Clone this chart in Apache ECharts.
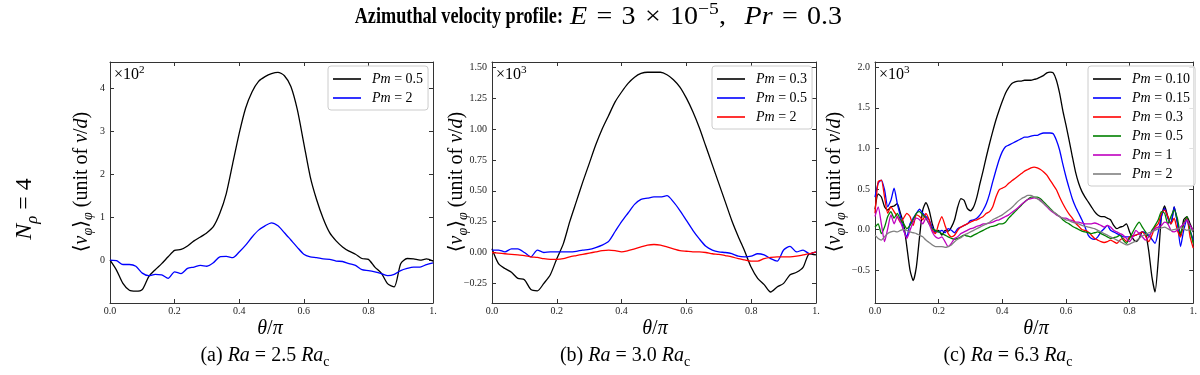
<!DOCTYPE html>
<html>
<head>
<meta charset="utf-8">
<script src="https://cdn.jsdelivr.net/npm/echarts@6/dist/echarts.min.js"></script>
<style>
  html, body { margin: 0; padding: 0; background: #fff; }
  #chart { width: 1200px; height: 375px; }
</style>
</head>
<body>
<div id="chart"></div>
<script>
// θ/π sample points
const thetaAB = [0, 0.02, 0.04, 0.06, 0.08, 0.1, 0.12, 0.14, 0.16, 0.18, 0.2, 0.22, 0.24, 0.26, 0.28, 0.3, 0.32, 0.34, 0.36, 0.38,
  0.4, 0.42, 0.44, 0.46, 0.48, 0.5, 0.52, 0.54, 0.56, 0.58, 0.6, 0.62, 0.64, 0.66, 0.68, 0.7, 0.72, 0.74, 0.76, 0.78,
  0.8, 0.82, 0.84, 0.86, 0.88, 0.9, 0.92, 0.94, 0.96, 0.98, 1];
const thetaC = [0, 0.01, 0.02, 0.03, 0.04, 0.05, 0.06, 0.07, 0.08, 0.09, 0.1, 0.11, 0.12, 0.13, 0.14, 0.15, 0.16, 0.17, 0.18, 0.19,
  0.2, 0.21, 0.22, 0.23, 0.24, 0.25, 0.26, 0.27, 0.28, 0.29, 0.3, 0.31, 0.32, 0.33, 0.34, 0.35, 0.36, 0.37, 0.38, 0.39,
  0.4, 0.41, 0.42, 0.43, 0.44, 0.45, 0.46, 0.47, 0.48, 0.49, 0.5, 0.51, 0.52, 0.53, 0.54, 0.55, 0.56, 0.57, 0.58, 0.59,
  0.6, 0.61, 0.62, 0.63, 0.64, 0.65, 0.66, 0.67, 0.68, 0.69, 0.7, 0.71, 0.72, 0.73, 0.74, 0.75, 0.76, 0.77, 0.78, 0.79,
  0.8, 0.81, 0.82, 0.83, 0.84, 0.85, 0.86, 0.87, 0.88, 0.89, 0.9, 0.91, 0.92, 0.93, 0.94, 0.95, 0.96, 0.97, 0.98, 0.99, 1];

// (a) Ra = 2.5 Ra_c, values x10^2
const aPm05 = [0, -0.23, -0.54, -0.70, -0.72, -0.68, -0.38, -0.22, -0.08, 0.08, 0.23, 0.25, 0.33, 0.45, 0.54, 0.64, 0.78, 1.09, 1.55, 2.25,
  2.95, 3.54, 3.92, 4.16, 4.27, 4.34, 4.37, 4.29, 4.04, 3.50, 2.72, 1.94, 1.40, 0.97, 0.64, 0.45, 0.31, 0.21, 0.14, 0.04,
  0.02, -0.16, -0.30, -0.55, -0.62, -0.08, 0.04, 0.03, 0.0, 0.03, -0.02];
const aPm2 = [0, -0.01, -0.10, -0.10, -0.14, -0.30, -0.36, -0.33, -0.34, -0.42, -0.27, -0.31, -0.19, -0.16, -0.12, -0.14, -0.06, 0.08, 0.09, 0.06,
  0.19, 0.35, 0.54, 0.70, 0.80, 0.87, 0.80, 0.64, 0.47, 0.30, 0.14, 0.08, 0.06, 0.03, 0.02, -0.02, -0.03, -0.08, -0.12, -0.22,
  -0.24, -0.27, -0.31, -0.36, -0.33, -0.24, -0.19, -0.16, -0.16, -0.10, -0.06];

// (b) Ra = 3.0 Ra_c, values x10^3
const bPm03 = [0.03, -0.09, -0.13, -0.16, -0.21, -0.22, -0.30, -0.31, -0.25, -0.18, -0.05, 0.07, 0.25, 0.41, 0.57, 0.72, 0.87, 1.00, 1.11, 1.22,
  1.30, 1.37, 1.42, 1.45, 1.46, 1.46, 1.46, 1.44, 1.40, 1.34, 1.25, 1.14, 1.01, 0.86, 0.71, 0.56, 0.41, 0.26, 0.13, 0.01,
  -0.12, -0.21, -0.26, -0.32, -0.28, -0.25, -0.18, -0.16, -0.12, -0.01, -0.02];
const bPm05 = [0.02, 0.02, 0.005, 0.03, 0.03, 0.0, -0.035, 0.02, 0.0, 0.005, 0.005, 0.005, 0.005, 0.01, 0.02, 0.025, 0.04, 0.06, 0.09, 0.17,
  0.25, 0.32, 0.39, 0.43, 0.44, 0.45, 0.45, 0.46, 0.41, 0.34, 0.26, 0.18, 0.11, 0.05, 0.02, 0.005, 0.0, -0.01, -0.03, -0.035,
  -0.03, -0.01, -0.02, -0.05, -0.07, 0.02, 0.05, 0.005, 0.02, -0.01, 0.005];
const bPm2 = [0.0, -0.005, -0.01, -0.015, -0.02, -0.025, -0.035, -0.04, -0.05, -0.055, -0.055, -0.05, -0.035, -0.025, -0.015, -0.005, 0.005, 0.015, 0.02, 0.015,
  0.005, 0.015, 0.03, 0.045, 0.06, 0.065, 0.06, 0.045, 0.03, 0.015, 0.01, 0.005, 0.005, 0.0, -0.01, -0.015, -0.025, -0.035, -0.05, -0.06,
  -0.07, -0.07, -0.05, -0.04, -0.035, -0.035, -0.035, -0.03, -0.02, -0.01, 0.005];

// (c) Ra = 6.3 Ra_c, values x10^3
const cPm010 = [0.25, 0.44, 0.40, 0.28, 0.24, 0.28, 0.29, 0.32, 0.20, 0.07,
  -0.21, -0.50, -0.63, -0.46, -0.09, 0.24, 0.33, 0.24, 0.07, -0.03,
  -0.01, -0.07, -0.01, -0.02, 0.03, 0.12, 0.28, 0.38, 0.36, 0.26,
  0.23, 0.28, 0.40, 0.57, 0.73, 0.90, 1.06, 1.21, 1.35, 1.47,
  1.58, 1.68, 1.75, 1.80, 1.82, 1.83, 1.83, 1.84, 1.84, 1.84,
  1.85, 1.86, 1.88, 1.90, 1.93, 1.94, 1.93, 1.84, 1.68, 1.47,
  1.29, 1.10, 0.90, 0.71, 0.57, 0.47, 0.40, 0.34, 0.28, 0.22,
  0.18, 0.16, 0.16, 0.14, 0.12, 0.05, 0.01, 0.03, 0.04, 0.07,
  -0.03, -0.11, -0.15, -0.11, -0.03, -0.05, -0.26, -0.58, -0.77, -0.38,
  0.16, 0.29, 0.16, 0.07, 0.28, 0.09, -0.09, 0.12, 0.16, 0.07, -0.03];
const cPm015 = [0.40, 0.57, 0.61, 0.49, 0.28, 0.36, 0.51, 0.32, 0.16, -0.01,
  -0.09, 0.07, 0.14, 0.20, 0.25, 0.20, 0.16, 0.12, 0.03, -0.03,
  -0.03, -0.01, -0.04, 0.01, -0.01, -0.04, 0.01, 0.03, 0.05, 0.07,
  0.11, 0.12, 0.14, 0.18, 0.24, 0.32, 0.44, 0.59, 0.73, 0.86,
  0.96, 1.02, 1.04, 1.06, 1.08, 1.10, 1.12, 1.14, 1.14, 1.15,
  1.16, 1.16, 1.18, 1.19, 1.19, 1.19, 1.18, 1.10, 0.98, 0.81,
  0.65, 0.51, 0.38, 0.28, 0.20, 0.12, 0.03, -0.07, -0.11, -0.12,
  -0.09, -0.03, 0.01, 0.05, -0.01, -0.03, -0.05, -0.07, -0.09, -0.09,
  -0.09, -0.08, -0.07, -0.05, -0.03, -0.04, -0.07, -0.12, -0.17, -0.03,
  0.16, 0.26, 0.14, 0.07, 0.28, 0.09, -0.21, -0.01, 0.12, -0.01, -0.13];
const cPm03 = [0.20, 0.59, 0.61, 0.40, 0.20, 0.28, 0.22, 0.16, 0.09, 0.14,
  0.20, 0.16, 0.05, 0.18, 0.16, 0.12, 0.20, 0.12, -0.01, -0.05,
  0.07, 0.16, 0.05, -0.05, -0.09, -0.07, -0.01, 0.03, 0.05, 0.07,
  0.09, 0.11, 0.12, 0.14, 0.16, 0.20, 0.22, 0.28, 0.40, 0.49,
  0.51, 0.53, 0.57, 0.60, 0.63, 0.66, 0.69, 0.72, 0.74, 0.76,
  0.77, 0.76, 0.74, 0.71, 0.67, 0.61, 0.55, 0.49, 0.40, 0.32,
  0.25, 0.19, 0.14, 0.08, 0.04, 0.00, -0.01, -0.03, -0.07, -0.11,
  -0.13, -0.15, -0.16, -0.15, -0.13, -0.15, -0.17, -0.13, -0.11, -0.15,
  -0.09, -0.08, -0.07, -0.05, -0.03, -0.08, -0.15, -0.07, 0.03, 0.07,
  0.20, 0.24, 0.16, 0.07, 0.14, -0.01, -0.09, 0.07, 0.14, -0.09, -0.23];
const cPm05 = [0.03, 0.07, -0.05, 0.03, 0.16, 0.22, 0.14, 0.20, 0.12, 0.07,
  0.01, 0.05, 0.12, 0.20, 0.22, 0.18, 0.14, 0.07, 0.01, -0.01,
  -0.03, -0.05, -0.07, -0.09, -0.11, -0.12, -0.11, -0.09, -0.07, -0.08,
  -0.09, -0.07, -0.05, -0.03, -0.01, 0.01, 0.03, 0.04, 0.05, 0.07,
  0.07, 0.09, 0.14, 0.18, 0.22, 0.26, 0.30, 0.34, 0.37, 0.40,
  0.40, 0.40, 0.38, 0.34, 0.30, 0.26, 0.22, 0.19, 0.16, 0.12,
  0.09, 0.07, 0.04, 0.02, 0.00, -0.02, -0.03, -0.04, -0.05, -0.04,
  -0.03, -0.05, -0.07, -0.09, -0.11, -0.10, -0.09, -0.07, -0.13, -0.17,
  -0.11, -0.03, 0.04, 0.09, 0.03, -0.03, -0.09, -0.01, 0.05, 0.12,
  0.22, 0.20, 0.07, 0.16, 0.24, 0.14, -0.05, 0.07, 0.16, -0.01, -0.17];
const cPm1 = [0.16, 0.28, 0.07, -0.15, 0.01, 0.18, 0.07, 0.16, 0.09, -0.01,
  -0.11, -0.01, 0.09, 0.14, 0.12, 0.07, 0.14, 0.07, -0.03, -0.09,
  -0.11, -0.09, -0.15, -0.21, -0.17, -0.11, -0.09, -0.05, -0.03, -0.01,
  0.01, 0.02, 0.04, 0.05, 0.07, 0.07, 0.08, 0.09, 0.11, 0.12,
  0.14, 0.16, 0.18, 0.21, 0.24, 0.27, 0.31, 0.34, 0.37, 0.38,
  0.39, 0.38, 0.36, 0.32, 0.28, 0.24, 0.21, 0.18, 0.16, 0.14,
  0.14, 0.12, 0.11, 0.09, 0.09, 0.08, 0.07, 0.07, 0.07, 0.08,
  0.07, 0.05, 0.03, 0.05, 0.03, -0.01, -0.03, -0.05, -0.07, -0.11,
  -0.15, -0.09, -0.01, -0.05, -0.09, -0.13, -0.09, -0.03, 0.01, 0.03,
  0.05, 0.09, 0.07, -0.01, -0.03, -0.01, 0.03, 0.07, 0.12, 0.05, -0.01];
const cPm2 = [-0.07, -0.11, -0.13, -0.09, -0.05, -0.03, -0.02, -0.03, -0.01, 0.00,
  -0.01, -0.03, -0.04, -0.05, -0.07, -0.09, -0.13, -0.16, -0.19, -0.21,
  -0.21, -0.21, -0.22, -0.21, -0.19, -0.15, -0.12, -0.10, -0.07, -0.05,
  -0.03, -0.01, 0.01, 0.03, 0.05, 0.07, 0.09, 0.12, 0.14, 0.16,
  0.18, 0.21, 0.24, 0.27, 0.31, 0.35, 0.38, 0.40, 0.42, 0.42,
  0.40, 0.38, 0.35, 0.32, 0.29, 0.25, 0.22, 0.19, 0.16, 0.14,
  0.12, 0.11, 0.09, 0.08, 0.07, 0.05, 0.04, 0.03, 0.02, 0.01,
  -0.01, -0.03, -0.05, -0.07, -0.09, -0.11, -0.13, -0.15, -0.17, -0.19,
  -0.18, -0.16, -0.14, -0.11, -0.08, -0.06, -0.04, -0.03, -0.01, 0.01,
  0.02, 0.03, 0.01, -0.01, 0.00, 0.01, 0.02, 0.01, -0.01, 0.00, -0.01];

// tick values
const xTicks = [0, 0.2, 0.4, 0.6, 0.8, 1];
const yTicksA = [0, 1, 2, 3, 4];
const yTicksB = [-0.25, 0, 0.25, 0.5, 0.75, 1, 1.25, 1.5];
const yTicksC = [-0.5, 0, 0.5, 1, 1.5, 2];

const FONT = '"Liberation Serif", "DejaVu Serif", serif';
const BLACK = '#000000', BLUE = '#0000ff', RED = '#ff0000', GREEN = '#008000', MAGENTA = '#bf00bf', GRAY = '#808080';

const panels = [
  {
    grid: { left: 110, top: 62, width: 323, height: 241 },
    yMin: -0.995, yMax: 4.61, yTicks: yTicksA, digits: 0, theta: thetaAB, smooth: 0.25,
    legendPos: { left: 328, top: 66 },
    lines: [
      { name: 'a:0.5', vals: aPm05, color: BLACK },
      { name: 'a:2', vals: aPm2, color: BLUE }
    ]
  },
  {
    grid: { left: 492, top: 62, width: 324, height: 241 },
    yMin: -0.409, yMax: 1.543, yTicks: yTicksB, digits: 2, theta: thetaAB, smooth: 0.25,
    legendPos: { left: 712, top: 66 },
    lines: [
      { name: 'b:0.3', vals: bPm03, color: BLACK },
      { name: 'b:0.5', vals: bPm05, color: BLUE },
      { name: 'b:2', vals: bPm2, color: RED }
    ]
  },
  {
    grid: { left: 875, top: 62, width: 323, height: 241 },
    yMin: -0.906, yMax: 2.065, yTicks: yTicksC, digits: 1, theta: thetaC, smooth: 0.2,
    legendPos: { left: 1088, top: 66 },
    lines: [
      { name: 'c:0.10', vals: cPm010, color: BLACK },
      { name: 'c:0.15', vals: cPm015, color: BLUE },
      { name: 'c:0.3', vals: cPm03, color: RED },
      { name: 'c:0.5', vals: cPm05, color: GREEN },
      { name: 'c:1', vals: cPm1, color: MAGENTA },
      { name: 'c:2', vals: cPm2, color: GRAY }
    ]
  }
];

const fmtNum = (v, d) => (v < 0 ? '\u2212' : '') + Math.abs(v).toFixed(d);

const axisLine = { show: true, onZero: false, lineStyle: { color: '#333', width: 1 } };
const tickStyle = { show: true, inside: true, length: 4, lineStyle: { color: '#333', width: 1 } };
const labelStyle = { fontFamily: FONT, fontSize: 10, color: '#222' };

const grids = [], xAxes = [], yAxes = [], series = [], legends = [];

panels.forEach((p, k) => {
  grids.push(p.grid);
  // bottom + top
  xAxes.push({
    type: 'value', gridIndex: k, position: 'bottom', min: 0, max: 1,
    axisLine, splitLine: { show: false },
    axisTick: Object.assign({ customValues: xTicks }, tickStyle),
    axisLabel: Object.assign({ customValues: xTicks, margin: 3,
      formatter: v => (v === 1 ? '1.' : v.toFixed(1)) }, labelStyle)
  });
  xAxes.push({
    type: 'value', gridIndex: k, position: 'top', min: 0, max: 1,
    axisLine, splitLine: { show: false },
    axisTick: Object.assign({ customValues: xTicks }, tickStyle),
    axisLabel: { show: false }
  });
  // left + right
  yAxes.push({
    type: 'value', gridIndex: k, position: 'left', min: p.yMin, max: p.yMax,
    axisLine, splitLine: { show: false },
    axisTick: Object.assign({ customValues: p.yTicks }, tickStyle),
    axisLabel: Object.assign({ customValues: p.yTicks, margin: 5,
      formatter: v => fmtNum(v, p.digits) }, labelStyle)
  });
  yAxes.push({
    type: 'value', gridIndex: k, position: 'right', min: p.yMin, max: p.yMax,
    axisLine, splitLine: { show: false },
    axisTick: Object.assign({ customValues: p.yTicks }, tickStyle),
    axisLabel: { show: false }
  });

  p.lines.forEach(l => {
    series.push({
      type: 'line', name: l.name,
      xAxisIndex: 2 * k, yAxisIndex: 2 * k,
      data: p.theta.map((t, i) => [t, l.vals[i]]),
      symbol: 'none', showSymbol: false, smooth: p.smooth,
      lineStyle: { color: l.color, width: 1.3 },
      itemStyle: { color: l.color },
      silent: true
    });
  });

  legends.push({
    orient: 'vertical', left: p.legendPos.left, top: p.legendPos.top,
    data: p.lines.map(l => ({ name: l.name, icon: 'rect' })),
    itemWidth: 28, itemHeight: 1.6, itemGap: 3,
    padding: [5, 5, 4, 5],
    backgroundColor: 'rgba(255,255,255,0.85)',
    borderColor: '#cccccc', borderWidth: 1, borderRadius: 3,
    selectedMode: false,
    formatter: n => '{i|Pm} = ' + n.split(':')[1],
    textStyle: {
      fontFamily: FONT, fontSize: 14, color: '#000', lineHeight: 16, padding: [0, 0, 0, 6],
      rich: { i: { fontFamily: FONT, fontSize: 14, fontStyle: 'italic', lineHeight: 16 } }
    }
  });
});

// rich text styles for annotations
function rich(size) {
  return {
    r: { fontFamily: FONT, fontSize: size, lineHeight: size * 1.3, fill: '#000' },
    i: { fontFamily: FONT, fontSize: size, fontStyle: 'italic', lineHeight: size * 1.3, fill: '#000' },
    b: { fontFamily: FONT, fontSize: size, fontWeight: 'bold', lineHeight: size * 1.3, fill: '#000' },
    sub: { fontFamily: FONT, fontSize: size * 0.7, lineHeight: size * 0.7, verticalAlign: 'bottom', fill: '#000' },
    subi: { fontFamily: FONT, fontSize: size * 0.7, fontStyle: 'italic', lineHeight: size * 0.7, verticalAlign: 'bottom', fill: '#000' },
    sup: { fontFamily: FONT, fontSize: size * 0.7, lineHeight: size * 0.7, verticalAlign: 'top', fill: '#000' }
  };
}
function txt(text, x, y, size, opts) {
  opts = opts || {};
  return {
    type: 'text', x, y,
    rotation: opts.rotation || 0,
    scaleX: opts.scaleX || 1, scaleY: opts.scaleY || 1,
    silent: true,
    style: {
      text, rich: rich(size), fontFamily: FONT, fontSize: size,
      align: opts.align || 'center', verticalAlign: 'middle', fill: '#000'
    }
  };
}

const yName = '{r|\u27E8}{i|v}{subi|\u03C6}{r|\u27E9}{subi|\u03C6}{r| (unit of }{i|\u03BD}{r|/}{i|d}{r|)}';
const xName = '{i|\u03B8}{r|/}{i|\u03C0}';
const sp = '\u2004';

const graphics = [
  txt('{b|Azimuthal velocity profile:}', 563, 17, 24, { align: 'right', scaleX: 0.76 }),
  txt('{i|E}{r|' + sp + '=' + sp + '3' + sp + '\u00D7' + sp + '10}{sup|\u22125}{r|,' + sp + sp + '}{i|Pr}{r|' + sp + '=' + sp + '0.3}',
    570, 17, 25, { align: 'left', scaleX: 1.12 }),
  txt('{i|N}{subi|\u03C1}{r| = 4}', 25, 209, 24, { rotation: Math.PI / 2 }),
  txt(yName, 82, 182, 20, { rotation: Math.PI / 2 }),
  txt(yName, 457, 182, 20, { rotation: Math.PI / 2 }),
  txt(yName, 835, 182, 20, { rotation: Math.PI / 2 }),
  txt(xName, 270, 329, 20),
  txt(xName, 655, 329, 20),
  txt(xName, 1036, 329, 20),
  txt('{r|\u00D710}{sup|2}', 114, 75, 16, { align: 'left' }),
  txt('{r|\u00D710}{sup|3}', 496, 75, 16, { align: 'left' }),
  txt('{r|\u00D710}{sup|3}', 879, 75, 16, { align: 'left' }),
  txt('{r|(a) }{i|Ra}{r| = 2.5 }{i|Ra}{sub|c}', 265, 356, 20),
  txt('{r|(b) }{i|Ra}{r| = 3.0 }{i|Ra}{sub|c}', 625, 356, 20),
  txt('{r|(c) }{i|Ra}{r| = 6.3 }{i|Ra}{sub|c}', 1008, 356, 20)
];

const chart = echarts.init(document.getElementById('chart'), null, { renderer: 'canvas' });
chart.setOption({
  animation: false,
  backgroundColor: '#ffffff',
  grid: grids,
  xAxis: xAxes,
  yAxis: yAxes,
  legend: legends,
  series: series,
  graphic: { elements: graphics }
});
</script>
</body>
</html>
